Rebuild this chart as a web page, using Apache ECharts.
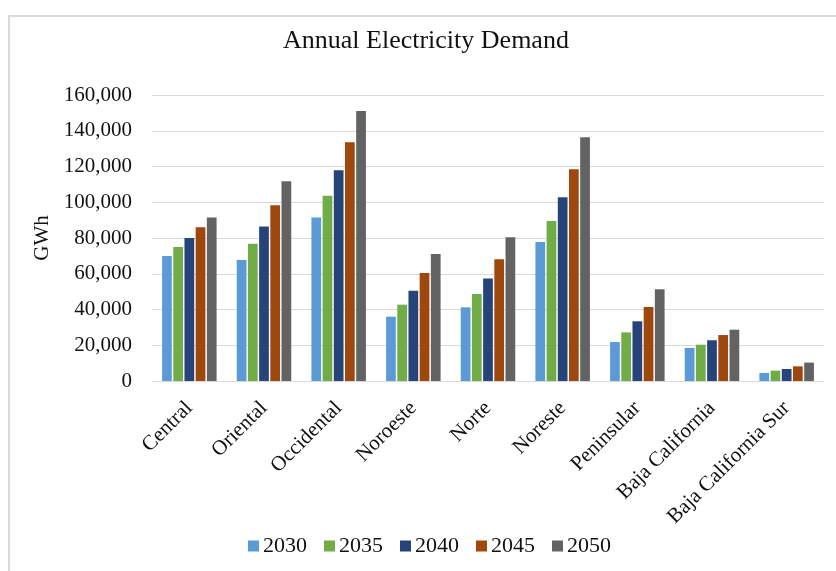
<!DOCTYPE html>
<html>
<head>
<meta charset="utf-8">
<title>Annual Electricity Demand</title>
<script src="https://cdn.jsdelivr.net/npm/echarts@6/dist/echarts.min.js"></script>
<style>
  html, body { margin: 0; padding: 0; background: #fff; }
  #frame { position: absolute; left: 8px; top: 15px; right: 0; bottom: 0;
           border-left: 2px solid #d9d9d9; border-top: 2px solid #d9d9d9; }
  #chart { position: absolute; left: 0; top: 0; width: 836px; height: 571px; }
</style>
</head>
<body>
<div id="frame"></div>
<div id="chart"></div>
<script>
// Regions of the national grid
const regions = ['Central', 'Oriental', 'Occidental', 'Noroeste', 'Norte',
                 'Noreste', 'Peninsular', 'Baja California', 'Baja California Sur'];

// Projected demand per region, GWh
const d2030 = [70000, 67700, 91500, 36000, 41200, 77800, 21800, 18500, 4500];
const d2035 = [75000, 76800, 103700, 42700, 48700, 89500, 27200, 20300, 5800];
const d2040 = [80000, 86500, 117900, 50500, 57400, 102800, 33400, 22800, 6700];
const d2045 = [86000, 98300, 133500, 60400, 68100, 118400, 41400, 25700, 8200];
const d2050 = [91500, 111700, 151000, 71000, 80400, 136300, 51300, 28700, 10300];

const years = ['2030', '2035', '2040', '2045', '2050'];
const yearData = [d2030, d2035, d2040, d2045, d2050];
const colors = ['#5B9BD5', '#70AD47', '#264478', '#9E480E', '#636363'];

const font = 'Liberation Serif';
const textColor = '#111';

const chart = echarts.init(document.getElementById('chart'), null, { renderer: 'canvas' });

chart.setOption({
  animation: false,
  color: colors,
  title: {
    text: 'Annual Electricity Demand',
    left: 278,
    top: 23,
    textStyle: { fontFamily: font, fontSize: 26, fontWeight: 'normal', color: textColor }
  },
  legend: {
    bottom: 9,
    left: 243,
    itemWidth: 11,
    itemHeight: 11,
    itemGap: 17,
    icon: 'rect',
    textStyle: { fontFamily: font, fontSize: 22, color: textColor, padding: [0, 0, 0, -1] },
    data: years
  },
  grid: { left: 152, right: 12, top: 95, bottom: 190, containLabel: false },
  xAxis: {
    type: 'category',
    data: regions,
    axisLine: { lineStyle: { color: '#d9d9d9', width: 1 } },
    axisTick: { show: false },
    axisLabel: {
      interval: 0,
      rotate: 45,
      margin: 24,
      fontFamily: font,
      fontSize: 21,
      color: textColor
    }
  },
  yAxis: {
    type: 'value',
    min: 0,
    max: 160000,
    interval: 20000,
    name: 'GWh',
    nameLocation: 'middle',
    nameGap: 88,
    nameRotate: 90,
    nameTextStyle: { fontFamily: font, fontSize: 21, color: textColor },
    axisLine: { show: false },
    axisTick: { show: false },
    splitLine: { lineStyle: { color: '#d9d9d9', width: 1 } },
    axisLabel: {
      margin: 20,
      fontFamily: font,
      fontSize: 21,
      color: textColor,
      formatter: v => v.toLocaleString('en-US')
    }
  },
  series: years.map((y, i) => ({
    name: y,
    type: 'bar',
    data: yearData[i],
    barGap: '15%',
    barCategoryGap: '27%',
    itemStyle: { color: colors[i] }
  }))
});
</script>
</body>
</html>
